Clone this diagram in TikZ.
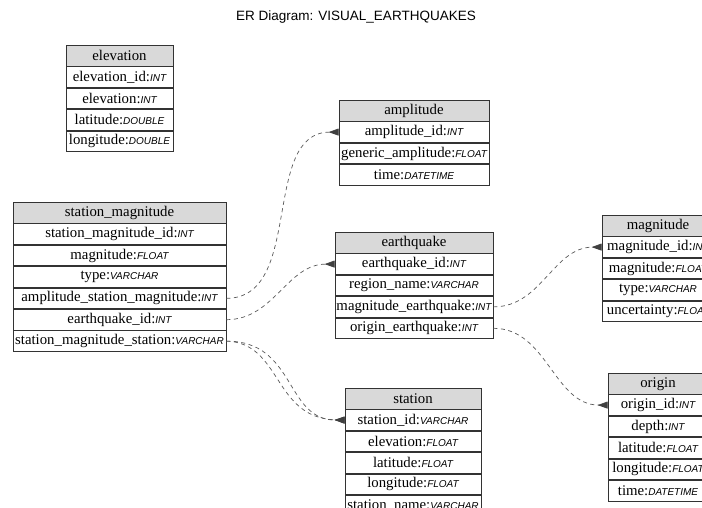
\documentclass[tikz,border=0pt]{standalone}
\usepackage{fontspec}
\setmainfont{Liberation Serif}
\newfontfamily\tyfont{Liberation Sans}
\usetikzlibrary{positioning,arrows.meta}
\newcount\mycount
\newcommand{\ty}[1]{{\tyfont\itshape\fontsize{10}{10}\selectfont #1}}

\begin{document}
\begin{tikzpicture}[x=1pt, y=-1pt,
  tbl/.style={draw=black!80, line width=0.8pt, minimum height=20.6pt, inner sep=0pt,
    font=\fontsize{14.8}{15}\selectfont},
  hdr/.style={tbl, fill=black!15},
  fld/.style={tbl, fill=white},
  fk/.style={draw=black!65, dash pattern=on 4pt off 3.5pt, line width=0.7pt,
    -{Triangle[reversed, length=10pt, width=7pt, color=black!75, fill=black!75]}}]
  \useasboundingbox (0,0) rectangle (702,508);
  \node[font=\tyfont\fontsize{13.5}{14}\selectfont] (title) at (356,17) {ER Diagram: VISUAL\_EARTHQUAKES};

  % elevation
  \node[hdr, minimum width=107pt, anchor=north] (elev-0) at (119.5,45) {elevation};
  \foreach \f/\t [count=\i] in {elevation\_id/INT, elevation/INT, latitude/DOUBLE, longitude/DOUBLE}{
        \mycount=\i
        \advance\mycount by -1
      \node[fld, minimum width=107pt, below=0pt of elev-\the\mycount] (elev-\i) {\f:\ty{\t}};
    }

  % amplitude
  \node[hdr, minimum width=150pt, anchor=north] (amp-0) at (414,100) {amplitude};
  \foreach \f/\t [count=\i] in {amplitude\_id/INT, generic\_amplitude/FLOAT, time/DATETIME}{
        \mycount=\i
        \advance\mycount by -1
      \node[fld, minimum width=150pt, below=0pt of amp-\the\mycount] (amp-\i) {\f:\ty{\t}};
    }

  % station_magnitude
  \node[hdr, minimum width=213pt, anchor=north] (stmag-0) at (119.5,202) {station\_magnitude};
  \foreach \f/\t [count=\i] in {station\_magnitude\_id/INT, magnitude/FLOAT, type/VARCHAR,
      amplitude\_station\_magnitude/INT, earthquake\_id/INT, station\_magnitude\_station/VARCHAR}{
        \mycount=\i
        \advance\mycount by -1
      \node[fld, minimum width=213pt, below=0pt of stmag-\the\mycount] (stmag-\i) {\f:\ty{\t}};
    }

  % earthquake
  \node[hdr, minimum width=158pt, anchor=north] (eq-0) at (414,232) {earthquake};
  \foreach \f/\t [count=\i] in {earthquake\_id/INT, region\_name/VARCHAR,
      magnitude\_earthquake/INT, origin\_earthquake/INT}{
        \mycount=\i
        \advance\mycount by -1
      \node[fld, minimum width=158pt, below=0pt of eq-\the\mycount] (eq-\i) {\f:\ty{\t}};
    }

  % magnitude
  \node[hdr, minimum width=112pt, anchor=north] (mag-0) at (658,215) {magnitude};
  \foreach \f/\t [count=\i] in {magnitude\_id/INT, magnitude/FLOAT, type/VARCHAR, uncertainty/FLOAT}{
        \mycount=\i
        \advance\mycount by -1
      \node[fld, minimum width=112pt, below=0pt of mag-\the\mycount] (mag-\i) {\f:\ty{\t}};
    }

  % origin
  \node[hdr, minimum width=100pt, anchor=north] (orig-0) at (658,373) {origin};
  \foreach \f/\t [count=\i] in {origin\_id/INT, depth/INT, latitude/FLOAT, longitude/FLOAT, time/DATETIME}{
        \mycount=\i
        \advance\mycount by -1
      \node[fld, minimum width=100pt, below=0pt of orig-\the\mycount] (orig-\i) {\f:\ty{\t}};
    }

  % station
  \node[hdr, minimum width=136pt, anchor=north] (sta-0) at (413,388) {station};
  \foreach \f/\t [count=\i] in {station\_id/VARCHAR, elevation/FLOAT, latitude/FLOAT,
      longitude/FLOAT, station\_name/VARCHAR}{
        \mycount=\i
        \advance\mycount by -1
      \node[fld, minimum width=136pt, below=0pt of sta-\the\mycount] (sta-\i) {\f:\ty{\t}};
    }

  % foreign keys
  \draw[fk] (stmag-4.east) to[out=0, in=180] (amp-1.west);
  \draw[fk] (stmag-5.east) to[out=0, in=180] (eq-1.west);
  \draw[fk] (stmag-6.east) .. controls +(70,0) and +(-60,0) .. (sta-1.west);
  \draw[fk] (stmag-6.east) .. controls +(56,2) and +(-72,-2) .. (sta-1.west);
  \draw[fk] (eq-3.east) to[out=0, in=180] (mag-1.west);
  \draw[fk] (eq-4.east) to[out=0, in=180] (orig-1.west);
\end{tikzpicture}
\end{document}
